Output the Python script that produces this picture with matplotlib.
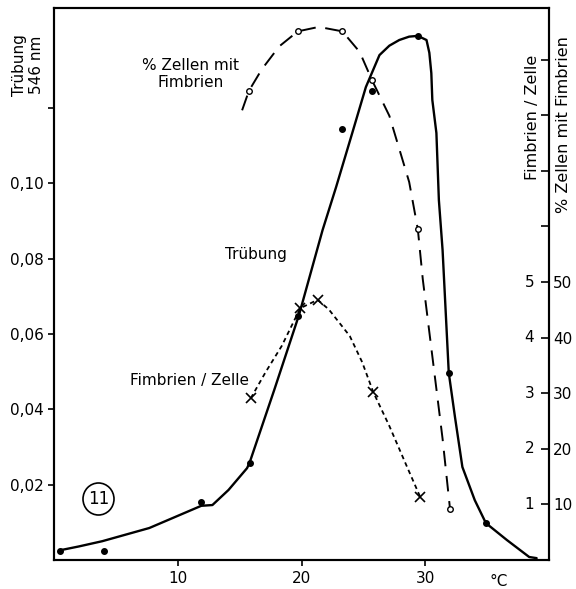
import matplotlib
matplotlib.use("Agg")
import matplotlib.pyplot as plt
from matplotlib.patches import Ellipse
from matplotlib.transforms import blended_transform_factory

plt.rcParams['font.family'] = ['DejaVu Sans']
plt.rcParams['font.size'] = 11

######################  Data  ######################

# Truebung (546 nm) - measured points
trub_pts_x = [0.5, 4.0, 11.9, 15.8, 19.7, 23.3, 25.7, 29.4, 31.9, 34.9]
trub_pts_y = [0.0024, 0.0024, 0.0154, 0.0258, 0.0648, 0.1145, 0.1246, 0.1392, 0.0497, 0.0098]

# Truebung - hand drawn curve (traced)
trub_x = [0.5, 2.0, 3.9, 7.7, 11.9, 12.8, 14.1, 15.6, 15.8, 17.8, 19.8, 21.7, 22.8,
          24.1, 25.2, 26.3, 27.1, 27.9, 28.7, 29.4, 30.1, 30.33, 30.49, 30.57, 30.9,
          31.1, 31.4, 31.9, 32.4, 33.0, 34.0, 34.9, 36.6, 38.4, 39.0]
trub_y = [0.0026, 0.0036, 0.0050, 0.0085, 0.0144, 0.0146, 0.0186, 0.0244, 0.0258,
          0.0452, 0.0651, 0.0876, 0.0991, 0.1134, 0.1256, 0.1341, 0.1366, 0.1381,
          0.1390, 0.1392, 0.1381, 0.1347, 0.1293, 0.1222, 0.1134, 0.0956, 0.0823,
          0.0497, 0.0380, 0.0247, 0.0159, 0.0098, 0.0053, 0.0008, 0.0005]

# % Zellen mit Fimbrien
pct_pts_x = [15.75, 19.7, 23.3, 25.7, 29.4, 32.0]
pct_pts_y = [84.4, 95.1, 95.1, 86.3, 59.5, 9.2]
pct_x = [15.2, 15.75, 16.8, 18.2, 19.7, 21.4, 23.3, 24.7, 25.7, 27.1, 28.7, 29.4,
         29.8, 31.4, 32.0]
pct_y = [80.9, 84.4, 88.3, 92.4, 95.1, 95.9, 95.1, 91.4, 86.3, 79.9, 68.0, 59.5,
         50.5, 21.8, 9.2]

# Fimbrien / Zelle
fz_pts_x = [15.9, 19.9, 21.3, 25.8, 29.6]
fz_pts_y = [2.91, 4.53, 4.68, 3.02, 1.13]
fz_x = [15.9, 17.1, 18.4, 19.9, 21.3, 22.2, 23.9, 24.9, 25.8, 27.1, 28.5, 29.6]
fz_y = [2.91, 3.38, 3.85, 4.53, 4.68, 4.51, 4.03, 3.56, 3.02, 2.41, 1.69, 1.13]

left_ticks = [0.02, 0.04, 0.06, 0.08, 0.10, 0.12]
left_labels = ['0,02', '0,04', '0,06', '0,08', '0,10', '']
right_ticks = [10, 20, 30, 40, 50, 60, 70, 80, 90]
right_labels = ['10', '20', '30', '40', '50', '', '', '', '']
fz_labels = ['1', '2', '3', '4', '5']
x_ticks = [10, 20, 30]

######################  Figure  ######################

fig = plt.figure(figsize=(5.76, 5.89), dpi=100)
ax = fig.add_axes([0.09375, 0.0492, 0.8594, 0.9372])
ax2 = ax.twinx()

ax.set_xlim(0, 40)
ax.set_ylim(0, 0.1466)
ax2.set_ylim(0, 99.3)

for a in (ax, ax2):
    for s in a.spines.values():
        s.set_linewidth(1.5)

# Truebung
ax.plot(trub_x, trub_y, color='black', lw=1.7, solid_capstyle='round',
        solid_joinstyle='round')
ax.plot(trub_pts_x, trub_pts_y, 'o', color='black', ms=4)

# % Zellen mit Fimbrien
ax2.plot(pct_x, pct_y, color='black', lw=1.4, dashes=(8, 5))
ax2.plot(pct_pts_x, pct_pts_y, 'o', mfc='white', mec='black', ms=4, mew=1.0)

# Fimbrien / Zelle  (scaled x10 onto the right axis)
ax2.plot(fz_x, [v * 10 for v in fz_y], color='black', lw=1.3, dashes=(2.5, 2))
ax2.plot(fz_pts_x, [v * 10 for v in fz_pts_y], 'x', color='black', ms=7, mew=1.2)

# axes ticks
ax.set_xticks(x_ticks)
ax.set_xticklabels([str(t) for t in x_ticks])
ax.set_yticks(left_ticks)
ax.set_yticklabels(left_labels)
ax.tick_params(axis='both', direction='out', length=4, width=1.2, labelsize=11)
ax.tick_params(axis='x', pad=4)

ax2.set_yticks(right_ticks)
ax2.set_yticklabels(right_labels)
ax2.tick_params(axis='y', direction='in', length=6, width=1.2, labelsize=11, pad=3)

tr = blended_transform_factory(ax2.transAxes, ax2.transData)
for i, lab in enumerate(fz_labels):
    ax2.text(0.97, (i + 1) * 10, lab, transform=tr, ha='right', va='center', fontsize=11)

# texts
fig.text(499 / 576, 1 - 581 / 589, '°C', ha='center', va='center', fontsize=11)
fig.text(28 / 576, 1 - 65 / 589, 'Trübung\n546 nm', rotation=90, ha='center', va='center',
         fontsize=11, linespacing=1.1)
fig.text(191 / 576, 1 - 74 / 589, '% Zellen mit\nFimbrien', ha='center', va='center',
         fontsize=11, linespacing=1.1)
fig.text(256 / 576, 1 - 255 / 589, 'Trübung', ha='center', va='center', fontsize=11)
fig.text(190 / 576, 1 - 380 / 589, 'Fimbrien / Zelle', ha='center', va='center', fontsize=11)
fig.text(533 / 576, 1 - 117 / 589, 'Fimbrien / Zelle', rotation=90, ha='center', va='center',
         fontsize=11.5)
fig.text(564 / 576, 1 - 125 / 589, '% Zellen mit Fimbrien', rotation=90, ha='center',
         va='center', fontsize=11.5)

# circled figure number
fig.text(98.5 / 576, 1 - 499 / 589, '11', ha='center', va='center', fontsize=12)
fig.patches.append(Ellipse((98.5 / 576, 1 - 499 / 589), 31 / 576, 32 / 589,
                           transform=fig.transFigure, fill=False, lw=1.2, color='black'))

fig.savefig('out.png', dpi=100)
